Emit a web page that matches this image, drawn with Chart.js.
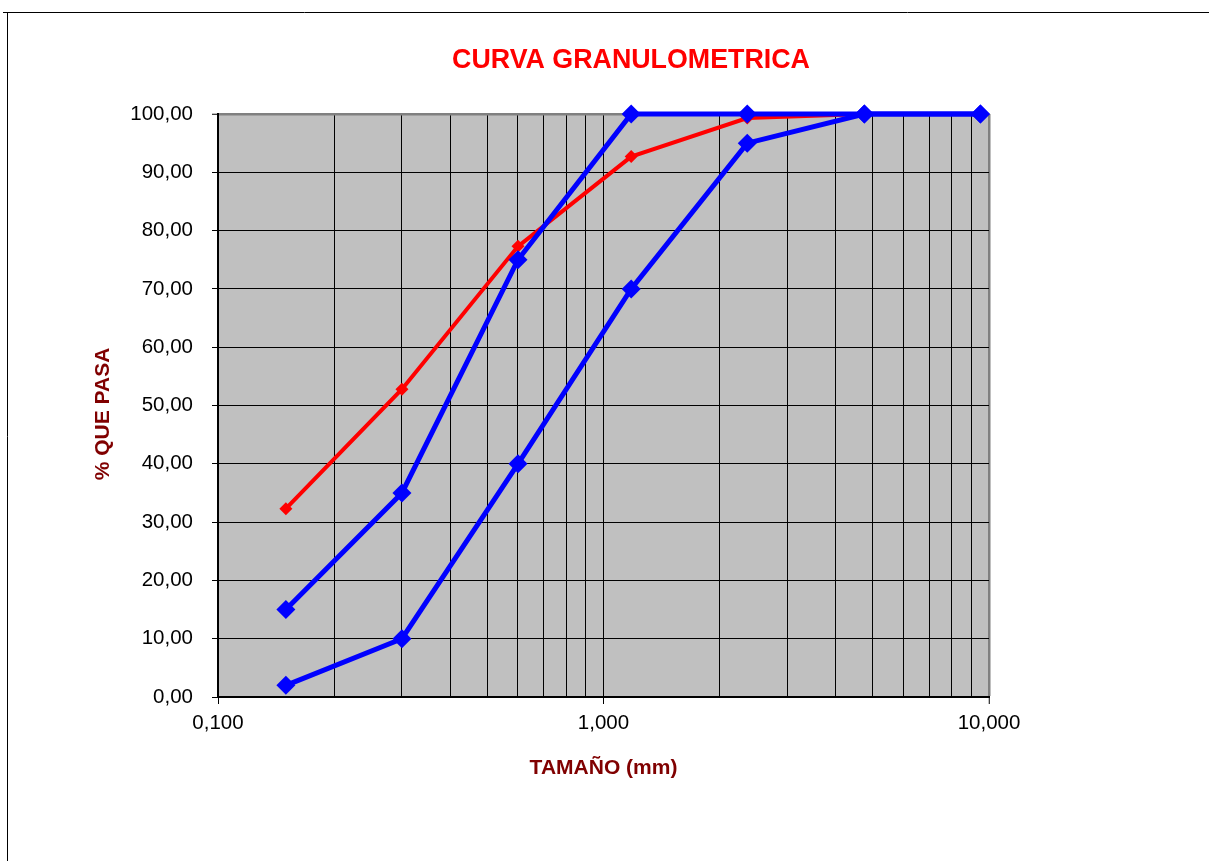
<!DOCTYPE html>
<html>
<head>
<meta charset="utf-8">
<script src="https://cdn.jsdelivr.net/npm/chart.js@4"></script>
<style>
  html, body { margin: 0; padding: 0; background: #fff; overflow: hidden; }
  canvas { display: block; }
</style>
</head>
<body>
<canvas id="c" width="1209" height="861"></canvas>
<script>
// ---- Data ----
const sieveSizes  = [0.15, 0.3, 0.6, 1.18, 2.36, 4.75, 9.5];
const sampleCurve = [32.3, 52.8, 77.3, 92.7, 99.3, 100, 100];
const upperLimit  = [15, 35, 75, 100, 100, 100, 100];
const lowerLimit  = [2, 10, 40, 70, 95, 100, 100];

const xGridValues  = [0.1,0.2,0.3,0.4,0.5,0.6,0.7,0.8,0.9,1,2,3,4,5,6,7,8,9,10];
const xMajorValues = [0.1, 1, 10];
const xMajorLabels = ['0,100', '1,000', '10,000'];

const chartTitle = 'CURVA GRANULOMETRICA';
const xTitle = 'TAMAÑO (mm)';
const yTitle = '% QUE PASA';

const FONT = '"Liberation Sans", Arial, sans-serif';

function pts(xs, ys) { return xs.map((x, i) => ({ x: x, y: ys[i] })); }

const decorPlugin = {
  id: 'decor',
  beforeDraw(chart) {
    const ctx = chart.ctx, a = chart.chartArea;
    ctx.save();
    ctx.fillStyle = '#C0C0C0';
    ctx.fillRect(a.left, a.top, a.right - a.left, a.bottom - a.top);
    ctx.restore();
  },
  afterDraw(chart) {
    const ctx = chart.ctx;
    ctx.save();
    ctx.strokeStyle = '#000';
    ctx.lineWidth = 1;
    ctx.beginPath();
    ctx.moveTo(3, 12.5); ctx.lineTo(1209, 12.5);
    ctx.moveTo(7.5, 12); ctx.lineTo(7.5, 861);
    ctx.stroke();
    ctx.fillStyle = '#FF0000';
    ctx.font = 'bold 26.8px ' + FONT;
    ctx.textAlign = 'center';
    ctx.textBaseline = 'middle';
    ctx.fillText(chartTitle, 631, 61);
    // y axis title
    ctx.fillStyle = '#800000';
    ctx.font = 'bold 21px ' + FONT;
    ctx.translate(103, 414);
    ctx.rotate(-Math.PI / 2);
    ctx.fillText(yTitle, 0, 0);
    ctx.restore();
  }
};

const blueStyle = {
  showLine: true,
  clip: false,
  borderColor: '#0000FF',
  backgroundColor: '#0000FF',
  borderWidth: 5,
  pointStyle: 'rectRot',
  pointRadius: 9.5,
  pointBorderWidth: 0,
  tension: 0
};

new Chart(document.getElementById('c'), {
  type: 'scatter',
  data: {
    datasets: [
      Object.assign({ label: 'Límite superior', data: pts(sieveSizes, upperLimit) }, blueStyle),
      Object.assign({ label: 'Límite inferior', data: pts(sieveSizes, lowerLimit) }, blueStyle),
      {
        label: 'Muestra',
        data: pts(sieveSizes, sampleCurve),
        showLine: true,
        clip: false,
        borderColor: '#FF0000',
        backgroundColor: '#FF0000',
        borderWidth: 4,
        pointStyle: 'rectRot',
        pointRadius: 6.5,
        pointBorderWidth: 0,
        tension: 0
      }
    ]
  },
  options: {
    responsive: false,
    animation: false,
    layout: { padding: { top: 114, left: 0, right: 220, bottom: 0 } },
    plugins: {
      legend: { display: false },
      title: { display: false },
      tooltip: { enabled: false }
    },
    scales: {
      x: {
        type: 'logarithmic',
        position: 'bottom',
        min: 0.1,
        max: 10,
        afterBuildTicks(scale) {
          scale.ticks = xGridValues.map(v => ({ value: v, major: xMajorValues.includes(v) }));
        },
        afterFit(scale) { scale.height = 861 - 697; },
        ticks: {
          autoSkip: false,
          maxRotation: 0,
          minRotation: 0,
          padding: 7,
          color: '#000',
          font: { family: FONT, size: 20.5 },
          callback(value) {
            const i = xMajorValues.findIndex(m => Math.abs(m - value) < 1e-9);
            return i >= 0 ? xMajorLabels[i] : '';
          }
        },
        grid: {
          color(ctx) {
            const v = ctx.tick ? ctx.tick.value : null;
            return v === 10 ? '#808080' : '#000';
          },
          lineWidth(ctx) {
            const v = ctx.tick ? ctx.tick.value : null;
            return v === 10 ? 2.5 : 1;
          },
          tickColor(ctx) {
            const v = ctx.tick ? ctx.tick.value : null;
            return xMajorValues.includes(v) ? '#000' : 'rgba(0,0,0,0)';
          },
          tickWidth: 1,
          tickLength: 7,
          drawTicks: true
        },
        border: { display: true, color: '#000', width: 2 },
        title: {
          display: true,
          text: xTitle,
          color: '#800000',
          font: { family: FONT, size: 21, weight: 'bold' },
          padding: { top: 0, bottom: 80 }
        }
      },
      y: {
        type: 'linear',
        position: 'left',
        min: 0,
        max: 100,
        afterFit(scale) { scale.width = 218; },
        ticks: {
          stepSize: 10,
          padding: 19,
          color: '#000',
          font: { family: FONT, size: 20.5 },
          callback(value) { return value.toFixed(2).replace('.', ','); }
        },
        grid: {
          color(ctx) {
            const v = ctx.tick ? ctx.tick.value : null;
            return v === 100 ? '#808080' : '#000';
          },
          lineWidth(ctx) {
            const v = ctx.tick ? ctx.tick.value : null;
            return v === 100 ? 2.5 : 1;
          },
          tickColor: '#000',
          tickWidth: 1,
          tickLength: 6,
          drawTicks: true
        },
        border: { display: true, color: '#000', width: 2 },
        title: { display: false }
      }
    }
  },
  plugins: [decorPlugin]
});
</script>
</body>
</html>
